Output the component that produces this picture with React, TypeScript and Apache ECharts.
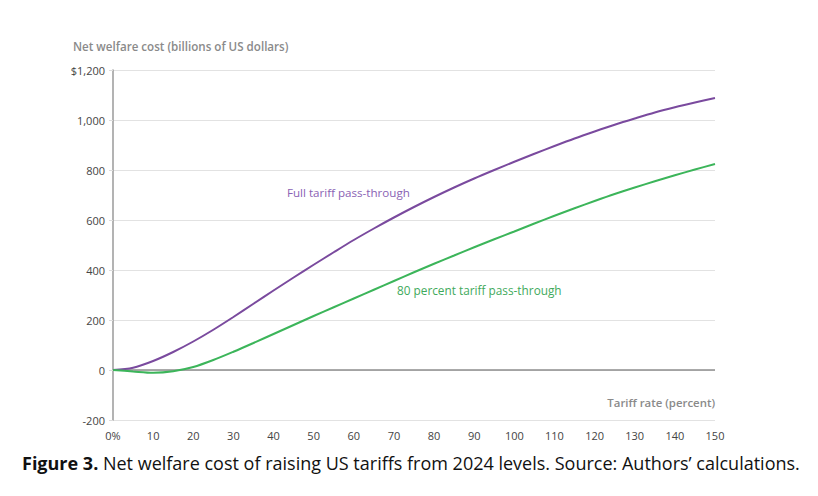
import React, { useEffect, useRef } from "react";
import * as echarts from "echarts";

const tariffRates = [0, 5, 10, 15, 20, 25, 30, 35, 40, 45, 50, 55, 60, 65, 70, 75, 80, 85, 90, 95, 100, 105, 110, 115, 120, 125, 130, 135, 140, 145, 150];
const fullPassThrough = [0, 9, 36, 72, 114, 161, 212, 265, 318, 370, 421, 471, 520, 566, 610, 652, 692, 730, 766, 800, 833, 865, 896, 926, 954, 981, 1006, 1030, 1051, 1070, 1088];
const partialPassThrough = [0, -6, -11, -5, 12, 40, 73, 108, 144, 180, 216, 251, 286, 321, 356, 391, 425, 458, 491, 523, 554, 586, 617, 647, 676, 704, 730, 755, 779, 802, 824];
const yTicks = [-200, 0, 200, 400, 600, 800, 1000, 1200];

const FONT = "'Open Sans', 'Noto Sans', sans-serif";

export default function App() {
  const ref = useRef<HTMLDivElement>(null);
  useEffect(() => {
    document.body.style.margin = "0";
    const chart = echarts.init(ref.current!, null, { renderer: "svg" });
    const fullData = tariffRates.map((t, i) => [t, fullPassThrough[i]]);
    const partData = tariffRates.map((t, i) => [t, partialPassThrough[i]]);
    chart.setOption({
      animation: false,
      backgroundColor: "#ffffff",
      grid: { left: 113, right: 103, top: 70, bottom: 76 },
      xAxis: {
        type: "value",
        min: 0,
        max: 150,
        interval: 10,
        axisLine: { show: false },
        axisTick: { show: false },
        splitLine: { show: false },
        axisLabel: {
          margin: 10,
          color: "#444",
          fontFamily: FONT,
          fontSize: 11,
          formatter: (v: number) => (v === 0 ? "0%" : String(v)),
        },
      },
      yAxis: {
        type: "value",
        min: yTicks[0],
        max: yTicks[yTicks.length - 1],
        interval: 200,
        axisLine: { show: true, onZero: false, lineStyle: { color: "#9a9a9a", width: 1.5 } },
        axisTick: { show: true, length: 4, lineStyle: { color: "#dcdcdc" } },
        splitLine: { show: true, lineStyle: { color: "#e2e2e2", width: 1 } },
        axisLabel: {
          margin: 8,
          color: "#444",
          fontFamily: FONT,
          fontSize: 11,
          formatter: (v: number) =>
            v === 1200 ? "$1,200" : v.toLocaleString("en-US"),
        },
      },
      graphic: [
        {
          type: "text",
          left: 73,
          top: 40,
          style: {
            text: "Net welfare cost (billions of US dollars)",
            fill: "#8a8a8a",
            font: `600 11.6px ${FONT}`,
          },
        },
        {
          type: "text",
          right: 103,
          top: 397,
          style: {
            text: "Tariff rate (percent)",
            fill: "#8a8a8a",
            font: `600 11.4px ${FONT}`,
          },
        },
        {
          type: "text",
          left: 287,
          top: 186,
          style: {
            text: "Full tariff pass-through",
            fill: "#8a62b4",
            font: `11.6px ${FONT}`,
          },
        },
        {
          type: "text",
          left: 397,
          top: 284,
          style: {
            text: "80 percent tariff pass-through",
            fill: "#3faa5c",
            font: `11.8px ${FONT}`,
          },
        },
        {
          type: "text",
          left: 22,
          top: 454,
          style: {
            text: "{b|Figure 3.} Net welfare cost of raising US tariffs from 2024 levels. Source: Authors\u2019 calculations.",
            fill: "#111",
            font: `18px ${FONT}`,
            rich: {
              b: { fontWeight: "bold", fontSize: 18, fontFamily: FONT, fill: "#111" },
            },
          },
        },
      ],
      series: [
        {
          name: "Full tariff pass-through",
          type: "line",
          data: fullData,
          smooth: 0.3,
          showSymbol: false,
          lineStyle: { color: "#7a4a9e", width: 2 },
          z: 3,
          markLine: {
            silent: true,
            symbol: "none",
            label: { show: false },
            lineStyle: { color: "#8e8e8e", width: 1.5, type: "solid" },
            data: [{ yAxis: 0 }],
            z: 1,
          },
        },
        {
          name: "80 percent tariff pass-through",
          type: "line",
          data: partData,
          smooth: 0.3,
          showSymbol: false,
          lineStyle: { color: "#3cb55a", width: 2 },
          z: 3,
        },
      ],
    });
    return () => chart.dispose();
  }, []);
  return <div ref={ref} style={{ width: 818, height: 496 }} />;
}
